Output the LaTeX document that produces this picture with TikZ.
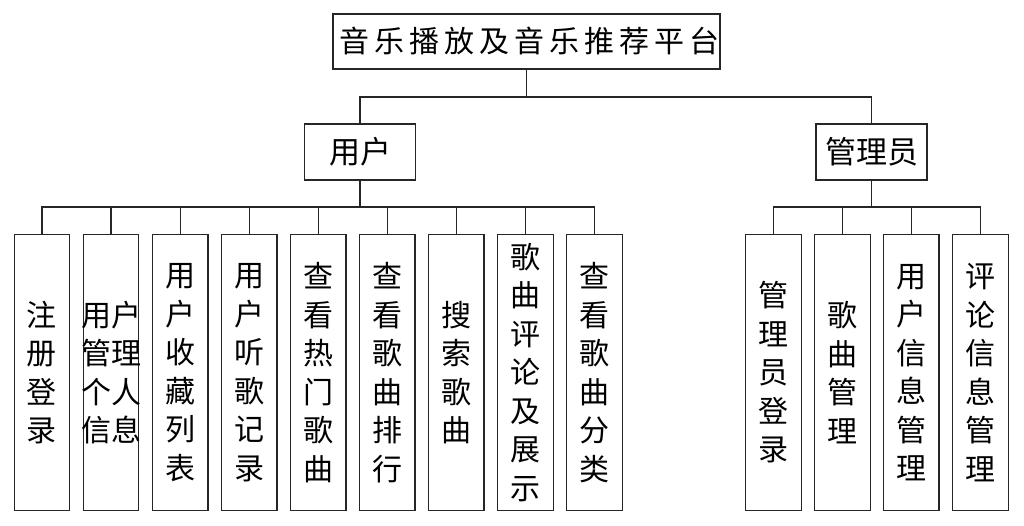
\documentclass[tikz,border=0pt]{standalone}
\usepackage{fontspec}
\setmainfont{Noto Sans CJK SC}
\newfontfamily\titlefont[LetterSpace=16.5]{Noto Sans CJK SC}
\begin{document}
\begin{tikzpicture}[x=1pt,y=-1pt,
  box/.style={draw=black!85, line width=1.2pt, inner sep=0pt, fill=white},
  conn/.style={draw=black!85, line width=1.2pt},
  leaf/.style={box, minimum width=55.5pt, minimum height=275.6pt, align=center,
    font=\fontsize{30}{38.5}\selectfont}]
\useasboundingbox (0,0) rectangle (1024,525);
\fill[white] (0,0) rectangle (1024,525);

\node[box, minimum width=387pt, minimum height=55pt, font=\titlefont\fontsize{30}{36}\selectfont] (top) at (526.5,41.5) {\hspace*{6pt}音乐播放及音乐推荐平台};
\node[box, minimum width=111pt, minimum height=56pt, font=\fontsize{31}{36}\selectfont] (user) at (360,152) {用户};
\node[box, minimum width=111pt, minimum height=56pt, font=\fontsize{31}{36}\selectfont] (admin) at (871.5,152) {管理员};

\node[leaf] (u1) at (42,372.5) {注\\册\\登\\录};
\node[leaf] (u2) at (111,372.5) {\makebox[50pt]{用户}\\\makebox[50pt]{管理}\\\makebox[50pt]{个人}\\\makebox[50pt]{信息}};
\node[leaf] (u3) at (180.2,372.5) {用\\户\\收\\藏\\列\\表};
\node[leaf] (u4) at (249.3,372.5) {用\\户\\听\\歌\\记\\录};
\node[leaf] (u5) at (318.3,372.5) {查\\看\\热\\门\\歌\\曲};
\node[leaf] (u6) at (387.3,372.5) {查\\看\\歌\\曲\\排\\行};
\node[leaf] (u7) at (456.3,372.5) {搜\\索\\歌\\曲};
\node[leaf] (u8) at (525.5,372.5) {歌\\曲\\评\\论\\及\\展\\示};
\node[leaf] (u9) at (594.4,372.5) {查\\看\\歌\\曲\\分\\类};

\node[leaf] (a1) at (773.5,372.5) {管\\理\\员\\登\\录};
\node[leaf] (a2) at (842.5,372.5) {歌\\曲\\管\\理};
\node[leaf] (a3) at (911.3,372.5) {用\\户\\信\\息\\管\\理};
\node[leaf] (a4) at (980.5,372.5) {评\\论\\信\\息\\管\\理};

\coordinate (tb) at (526.5,97);
\draw[conn] (top.south) -- (tb);
\draw[conn] (user.north) |- (tb) -| (admin.north);

\coordinate (ub) at (360,207);
\draw[conn] (user.south) -- (ub);
\foreach \n in {u1,u2,u3,u4,u5,u6,u7,u8,u9}
  \draw[conn] (\n.north) |- (ub);

\coordinate (ab) at (871.5,207);
\draw[conn] (admin.south) -- (ab);
\foreach \n in {a1,a2,a3,a4}
  \draw[conn] (\n.north) |- (ab);
\end{tikzpicture}
\end{document}
